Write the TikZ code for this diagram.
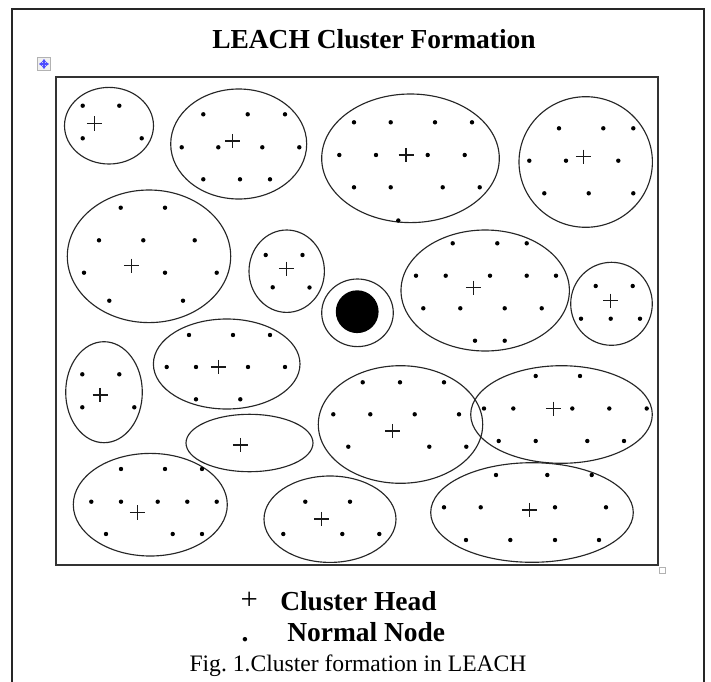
\documentclass[tikz,border=0pt]{standalone}
\usepackage{fontspec}
\setmainfont{Liberation Serif}
\usetikzlibrary{arrows.meta}
\frenchspacing
\begin{document}
\begin{tikzpicture}[x=0.75pt,y=-0.75pt,
  cluster/.style={draw=black!85, line width=0.85pt},
  headmark/.style={draw=black!90, line width=0.95pt},
  frameline/.style={draw=black!85, line width=1.5pt},
  boxline/.style={draw=black!80, line width=1pt},
  movearrow/.style={draw=blue!70, line width=1.1pt, -{Stealth[length=2.6pt,width=3.6pt]}},
  titletext/.style={font=\fontsize{20.6pt}{24pt}\selectfont\bfseries, inner sep=0pt, anchor=base},
  legtext/.style={font=\fontsize{20.6pt}{24pt}\selectfont\bfseries, inner sep=0pt, anchor=base west},
  captext/.style={font=\fontsize{17.7pt}{21pt}\selectfont, inner sep=0pt, anchor=base}]
\useasboundingbox (0,0) rectangle (711,682);
\clip (0,0) rectangle (711,682);
\fill[white] (0,0) rectangle (711,682);
% outer frame
\draw[frameline] (12,690) -- (12,9) -- (704,9) -- (704,690);
% title
\node[titletext] (title) at (374,48.3) {LEACH Cluster Formation};
% move handle icon
\draw[draw=gray!60, fill=gray!12, line width=0.6pt] (37.5,57.5) rectangle (50.5,70.5);
\coordinate (mc) at (44,64);
\draw[movearrow] (mc) -- ++(-5,0);
\draw[movearrow] (mc) -- ++(5,0);
\draw[movearrow] (mc) -- ++(0,-5);
\draw[movearrow] (mc) -- ++(0,5);
% inner box
\draw[boxline] (56,77) rectangle (658,565);
\draw[draw=gray!60, fill=white, line width=0.6pt] (659.5,567) rectangle (665.5,573);
% clusters
\foreach \cx/\cy/\rx/\ry in {
  109/125.7/44.5/38.3, 238.7/144/68/55, 410.5/158.3/88.8/64.3, 585.7/162/66.7/65.3,
  149/256.3/81.7/66.3, 286.7/271.2/37.7/41.2, 485.2/290.5/84.2/60.5, 611.5/303.8/40.8/41.5,
  104/392.2/38.3/50.5, 226.7/364/73.3/45, 400.5/424.5/82.2/58.8, 561.5/414.5/90.8/48.8,
  249.5/443/63.5/28.7, 150.3/504.7/77/51.3, 330/519.2/66/43.2, 532/512.5/101.3/49.8}
  \draw[cluster] (\cx,\cy) ellipse[x radius=\rx, y radius=\ry];
% base station
\draw[cluster] (357.5,312.8) ellipse[x radius=35.8, y radius=33.8];
\fill[black] (357.2,311.7) circle[radius=21.4];
% cluster heads
\foreach \x/\y in {94.3/123.3, 232.7/141, 406/155, 583.3/156.7, 131.3/265.7, 286.3/268.7,
  473.3/287.7, 610.7/300.7, 100/395, 218.3/367, 392.7/431, 553.3/408.7, 240.3/445,
  137.3/512.3, 321.7/519, 529.3/510}
  \draw[headmark] (\x,\y) +(-7.5,0) -- +(7.5,0) +(0,-7.2) -- +(0,7.2);
% normal nodes
\foreach \x/\y in {
  82.7/105.7, 119.3/105.7, 82.7/138.3, 141.7/138.3,
  203.3/114.3, 247.7/114.3, 285/114.3, 181.7/147.3, 218.3/147.3, 262.3/147.3, 299.3/147.3, 203.3/179.3, 240/179.3, 270/179.3,
  354/122.3, 390.7/122.3, 435/122.3, 472/122.3, 339.3/155, 376/155, 427.7/155, 464.7/155, 354/187.3, 390.7/187.3, 442.7/187.3, 479.7/187.3, 398.3/220.5,
  559/128.3, 603.3/128.3, 633.3/128.3, 529.3/160.7, 566/160.7, 618.3/160.7, 544.3/193.3, 588.7/193.3, 633.3/193.3,
  120.7/207.7, 165/207.7, 99/240.3, 143.3/240.3, 194.7/240.3, 84/272.7, 165/272.7, 216.7/272.7, 109.3/300.7, 183/300.7,
  265.7/255, 302.5/255, 272.7/287.3, 309.5/287.5,
  452.7/243.3, 497.3/243.3, 526.7/243.3, 416/275.7, 445.7/275.7, 490/275.7, 526.7/275.7, 556/275.7, 423.3/308.3, 460.3/308.3, 504.7/308.3, 541.7/308.3, 475/340.7, 504.7/340.7,
  595.7/286, 632.7/286, 581/318.7, 610.7/318.7, 640/318.7,
  82.3/374.3, 119.3/374.3, 82.3/407.3, 134.3/407.3,
  189/335, 233/335, 270/335, 166.7/367, 196/367, 248/367, 285/367, 196/399.3, 240.3/399.3,
  362.7/382.3, 400/382.3, 444/382.3, 333.3/414.3, 370.3/414.3, 414.7/414.3, 459/414.3, 348.3/446.7, 429.3/446.7, 466.3/446.7,
  535.7/376, 580/376, 484/408.5, 513.3/408.5, 572.3/408.5, 609.3/408.5, 646.7/408.5, 498.7/441, 535.7/441, 587.3/441, 624/441,
  121/469, 165/469, 202/469, 91.3/501.7, 121/501.7, 157.7/501.7, 187.3/501.7, 216.7/501.7, 106/534, 172.7/534, 202/534,
  305.3/501.7, 350/501.7, 283.3/534, 342.3/534, 379.3/534,
  496/475, 547.3/475, 591.7/475, 444/507.3, 480.7/507.3, 555/507.3, 606/507.3, 466/540, 510.3/540, 555/540, 599/540}
  \fill[black] (\x,\y) circle[radius=2.2];
% legend
\node[font=\fontsize{23pt}{26pt}\selectfont, inner sep=0pt, anchor=base] (legplus) at (249.3,609) {+};
\node[legtext] (leghead) at (280,610) {Cluster Head};
\node[titletext] (legdot) at (245,641.7) {.};
\node[legtext] (legnode) at (287,641.7) {Normal Node};
% caption
\node[captext] (caption) at (358,671.7) {Fig. 1.Cluster formation in LEACH};
\end{tikzpicture}
\end{document}
